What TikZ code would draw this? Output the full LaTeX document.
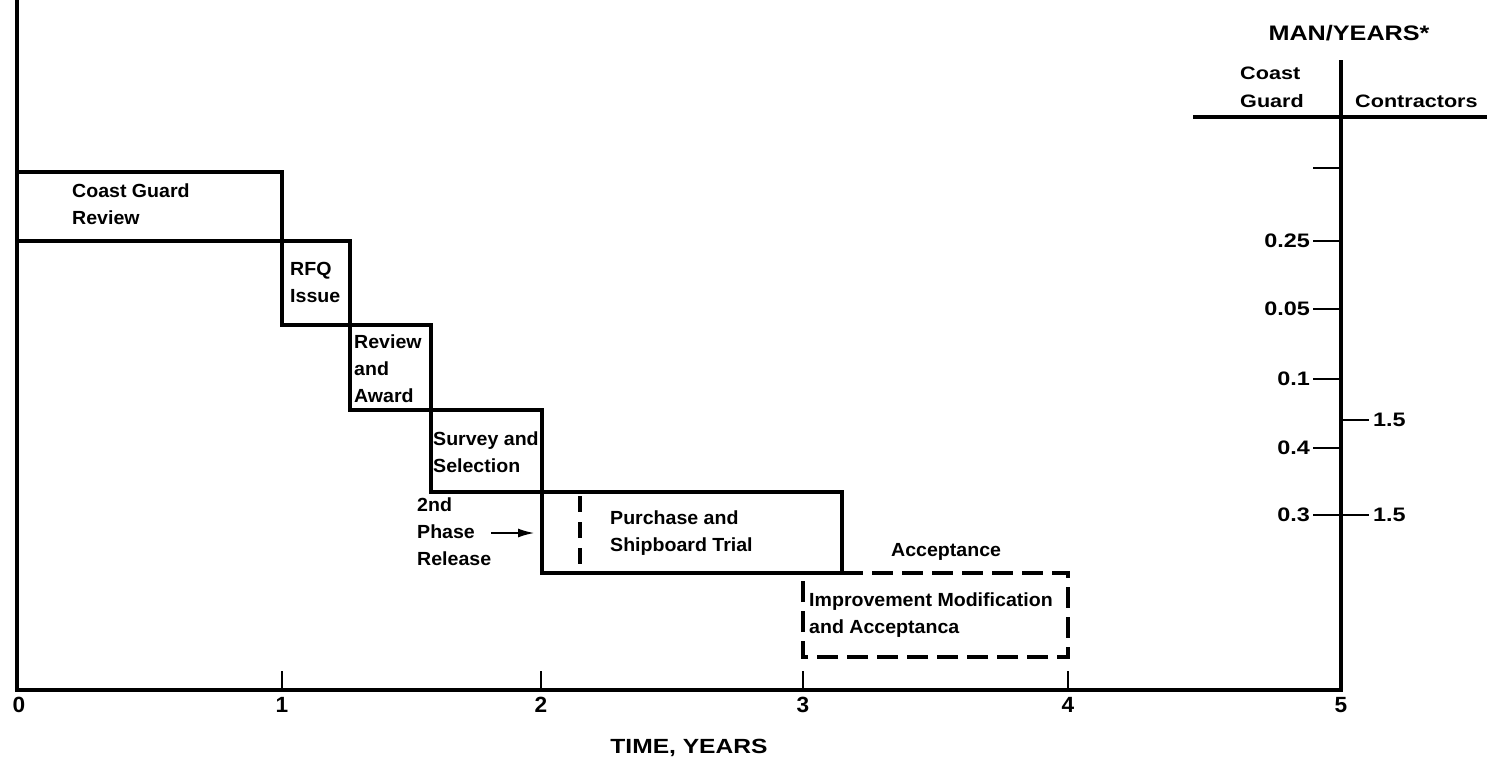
\documentclass[tikz,border=0pt]{standalone}
\usepackage{fontspec}
\setmainfont{Liberation Sans}
\newfontfamily\chartfont{Liberation Sans}[FakeStretch=1.03]
\newfontfamily\widefont{Liberation Sans}[FakeStretch=1.2]
\usetikzlibrary{arrows.meta}
\begin{document}
\begin{tikzpicture}[x=1pt,y=-1pt,
  axisline/.style={line width=3.3pt,line join=miter},
  boxline/.style={line width=3.3pt,line join=miter},
  dashline/.style={line width=3.3pt,dash pattern=on 21pt off 9pt},
  tickline/.style={line width=2.6pt},
  lbl/.style={inner sep=0pt,align=left,anchor=west,font=\chartfont\bfseries\fontsize{19}{27}\selectfont},
  wlbl/.style={inner sep=0pt,font=\widefont\bfseries\fontsize{19.5}{28}\selectfont},
  dlbl/.style={inner sep=0pt,font=\chartfont\bfseries\fontsize{22}{26}\selectfont}]
\useasboundingbox (0,0) rectangle (1487,765);
\fill[white] (0,0) rectangle (1487,765);

% main axes
\draw[axisline] (17,0) -- (17,690) -- (1341,690) -- (1341,60);
\draw[axisline] (1193,117) -- (1487,117);

% time ticks
\foreach \xx in {282,541,803,1068} \draw[tickline] (\xx,671) -- (\xx,690);
\node[dlbl] (t0) at (19,705) {0};
\node[dlbl] (t1) at (282,705) {1};
\node[dlbl] (t2) at (541,705) {2};
\node[dlbl] (t3) at (803,705) {3};
\node[dlbl] (t4) at (1068,705) {4};
\node[dlbl] (t5) at (1341,705) {5};
\node[wlbl,font=\widefont\bfseries\fontsize{20.5}{24}\selectfont] (tlab) at (689,748) {TIME, YEARS};

% right scale
\node[wlbl,font=\widefont\bfseries\fontsize{21}{24}\selectfont] (my) at (1349,33) {MAN/YEARS*};
\node[wlbl,align=left,anchor=west,font=\widefont\bfseries\fontsize{18}{28}\selectfont] (cg) at (1240,87) {Coast\\Guard};
\node[wlbl,anchor=west,font=\widefont\bfseries\fontsize{18}{28}\selectfont] (con) at (1355,101) {Contractors};
\draw[tickline] (1313,168) -- (1341,168);
\foreach \yy/\tt in {241/0.25,309/0.05,379/0.1,448/0.4,515/0.3}{
  \draw[tickline] (1313,\yy) -- (1341,\yy);
  \node[wlbl,anchor=east] at (1310,\yy) {\tt};
}
\foreach \yy in {420,515}{
  \draw[tickline] (1341,\yy) -- (1369,\yy);
  \node[wlbl,anchor=west] at (1373,\yy) {1.5};
}

% staircase boxes
\draw[boxline] (17,172) rectangle (282,241);
\draw[boxline] (282,241) rectangle (350,325);
\draw[boxline] (350,325) rectangle (431,410);
\draw[boxline] (431,410) rectangle (542,492);
\draw[boxline] (542,492) rectangle (842,573);
\draw[boxline,dash pattern=on 16pt off 10pt] (580,496) -- (580,573);
\draw[dashline] (842,573) -- (1068,573) -- (1068,657) -- (803,657) -- (803,573);

% labels
\node[lbl] (cgr) at (72,204) {Coast Guard\\Review};
\node[lbl] (rfq) at (290,282) {RFQ\\Issue};
\node[lbl] (raw) at (354,369) {Review\\and\\Award};
\node[lbl] (sas) at (433,452) {Survey and\\Selection};
\node[lbl] (ph2) at (417,532) {2nd\\Phase\\Release};
\coordinate (arS) at (491,533);
\coordinate (arE) at (535,533);
\draw[line width=2.4pt,-{Latex[length=17pt,width=9pt]}] (arS) -- (arE);
\node[lbl] (pst) at (610,533) {Purchase and\\Shipboard Trial};
\node[lbl] (acc) at (891,552) {Acceptance};
\node[lbl] (ima) at (809,615) {Improvement Modification\\and Acceptanca};
\end{tikzpicture}
\end{document}
